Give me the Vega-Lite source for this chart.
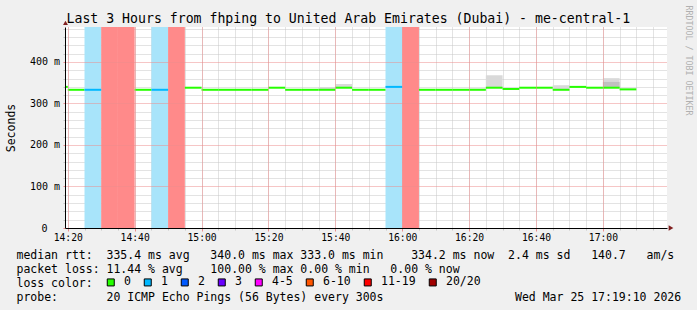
{
  "$schema": "https://vega.github.io/schema/vega-lite/v6.json",
  "width": 602,
  "height": 201,
  "autosize": {"type": "none"},
  "padding": {"left": 65, "top": 27, "right": 30, "bottom": 82},
  "background": "#f0f0f0",
  "config": {"view": {"stroke": null, "fill": "#ffffff"}, "font": "DejaVu Sans Mono"},
  "title": {"text": "Last 3 Hours from fhping to United Arab Emirates (Dubai) - me-central-1", "font": "DejaVu Sans Mono", "fontSize": 13.2, "fontWeight": "normal", "color": "#000000", "anchor": "middle", "frame": "group", "dx": -17.6, "dy": 34, "offset": 3, "baseline": "alphabetic"},
  "data": {"values": [
    {"t": "2026-03-25T14:15:00Z", "t2": "2026-03-25T14:20:00Z", "med": 340, "loss": "0"},
    {"t": "2026-03-25T14:20:00Z", "t2": "2026-03-25T14:25:00Z", "med": 333, "loss": "0"},
    {"t": "2026-03-25T14:25:00Z", "t2": "2026-03-25T14:30:00Z", "med": 333, "loss": "1"},
    {"t": "2026-03-25T14:30:00Z", "t2": "2026-03-25T14:35:00Z", "med": null, "loss": "20/20"},
    {"t": "2026-03-25T14:35:00Z", "t2": "2026-03-25T14:40:00Z", "med": null, "loss": "20/20"},
    {"t": "2026-03-25T14:40:00Z", "t2": "2026-03-25T14:45:00Z", "med": 333, "loss": "0"},
    {"t": "2026-03-25T14:45:00Z", "t2": "2026-03-25T14:50:00Z", "med": 333, "loss": "1"},
    {"t": "2026-03-25T14:50:00Z", "t2": "2026-03-25T14:55:00Z", "med": null, "loss": "20/20"},
    {"t": "2026-03-25T14:55:00Z", "t2": "2026-03-25T15:00:00Z", "med": 338, "loss": "0"},
    {"t": "2026-03-25T15:00:00Z", "t2": "2026-03-25T15:05:00Z", "med": 333, "loss": "0"},
    {"t": "2026-03-25T15:05:00Z", "t2": "2026-03-25T15:10:00Z", "med": 333, "loss": "0"},
    {"t": "2026-03-25T15:10:00Z", "t2": "2026-03-25T15:15:00Z", "med": 333, "loss": "0"},
    {"t": "2026-03-25T15:15:00Z", "t2": "2026-03-25T15:20:00Z", "med": 333, "loss": "0"},
    {"t": "2026-03-25T15:20:00Z", "t2": "2026-03-25T15:25:00Z", "med": 338, "loss": "0"},
    {"t": "2026-03-25T15:25:00Z", "t2": "2026-03-25T15:30:00Z", "med": 333, "loss": "0"},
    {"t": "2026-03-25T15:30:00Z", "t2": "2026-03-25T15:35:00Z", "med": 333, "loss": "0"},
    {"t": "2026-03-25T15:35:00Z", "t2": "2026-03-25T15:40:00Z", "med": 333, "loss": "0", "lo": 333, "hi": 340},
    {"t": "2026-03-25T15:40:00Z", "t2": "2026-03-25T15:45:00Z", "med": 338, "loss": "0", "lo": 338, "hi": 347},
    {"t": "2026-03-25T15:45:00Z", "t2": "2026-03-25T15:50:00Z", "med": 333, "loss": "0"},
    {"t": "2026-03-25T15:50:00Z", "t2": "2026-03-25T15:55:00Z", "med": 333, "loss": "0"},
    {"t": "2026-03-25T15:55:00Z", "t2": "2026-03-25T16:00:00Z", "med": 340, "loss": "1"},
    {"t": "2026-03-25T16:00:00Z", "t2": "2026-03-25T16:05:00Z", "med": null, "loss": "20/20"},
    {"t": "2026-03-25T16:05:00Z", "t2": "2026-03-25T16:10:00Z", "med": 333, "loss": "0"},
    {"t": "2026-03-25T16:10:00Z", "t2": "2026-03-25T16:15:00Z", "med": 333, "loss": "0"},
    {"t": "2026-03-25T16:15:00Z", "t2": "2026-03-25T16:20:00Z", "med": 333, "loss": "0"},
    {"t": "2026-03-25T16:20:00Z", "t2": "2026-03-25T16:25:00Z", "med": 333, "loss": "0", "lo": 333, "hi": 336},
    {"t": "2026-03-25T16:25:00Z", "t2": "2026-03-25T16:30:00Z", "med": 338, "loss": "0", "lo": 338, "hi": 368},
    {"t": "2026-03-25T16:30:00Z", "t2": "2026-03-25T16:35:00Z", "med": 335, "loss": "0"},
    {"t": "2026-03-25T16:35:00Z", "t2": "2026-03-25T16:40:00Z", "med": 338, "loss": "0"},
    {"t": "2026-03-25T16:40:00Z", "t2": "2026-03-25T16:45:00Z", "med": 338, "loss": "0"},
    {"t": "2026-03-25T16:45:00Z", "t2": "2026-03-25T16:50:00Z", "med": 333, "loss": "0", "lo": 333, "hi": 344},
    {"t": "2026-03-25T16:50:00Z", "t2": "2026-03-25T16:55:00Z", "med": 340, "loss": "0"},
    {"t": "2026-03-25T16:55:00Z", "t2": "2026-03-25T17:00:00Z", "med": 338, "loss": "0"},
    {"t": "2026-03-25T17:00:00Z", "t2": "2026-03-25T17:05:00Z", "med": 338, "loss": "0", "lo": 338, "hi": 361, "lo2": 338, "hi2": 352},
    {"t": "2026-03-25T17:05:00Z", "t2": "2026-03-25T17:10:00Z", "med": 334, "loss": "0", "lo": 334, "hi": 336}
  ]},
  "layer": [
    {
      "transform": [{"filter": "datum.loss != '0'"}],
      "mark": {"type": "rect", "clip": true},
      "encoding": {
        "x": {"field": "t", "type": "temporal",
          "scale": {"type": "utc", "domain": [1774448350000, 1774459150000]},
          "axis": {"orient": "bottom", "values": [1774448400000, 1774448700000, 1774449000000, 1774449300000, 1774449600000, 1774449900000, 1774450200000, 1774450500000, 1774450800000, 1774451100000, 1774451400000, 1774451700000, 1774452000000, 1774452300000, 1774452600000, 1774452900000, 1774453200000, 1774453500000, 1774453800000, 1774454100000, 1774454400000, 1774454700000, 1774455000000, 1774455300000, 1774455600000, 1774455900000, 1774456200000, 1774456500000, 1774456800000, 1774457100000, 1774457400000, 1774457700000, 1774458000000, 1774458300000, 1774458600000, 1774458900000], "grid": true, "gridColor": "#c6c6c6", "gridDash": [1, 1], "gridWidth": 1, "labels": false, "ticks": true, "tickColor": "#c6c6c6", "tickSize": 2, "domain": false, "title": null}},
        "x2": {"field": "t2"},
        "fill": {"field": "loss", "type": "nominal", "scale": {"domain": ["1", "20/20"], "range": ["#a8e4fa", "#ff8a8a"]}, "legend": null}
      }
    },
    {
      "transform": [{"filter": "isValid(datum.hi)"}],
      "mark": {"type": "rect", "clip": true, "color": "#d9d9d9"},
      "encoding": {
        "x": {"field": "t", "type": "temporal", "scale": {"type": "utc", "domain": [1774448350000, 1774459150000]}, "axis": null},
        "x2": {"field": "t2"},
        "y": {"field": "lo", "type": "quantitative", "scale": {"domain": [0, 484.3], "nice": false, "zero": true},
          "axis": {"orient": "left", "values": [20, 40, 60, 80, 120, 140, 160, 180, 220, 240, 260, 280, 320, 340, 360, 380, 420, 440, 460, 480], "grid": true, "gridColor": "#c6c6c6", "gridDash": [1, 1], "labels": false, "ticks": true, "tickSize": 2, "tickColor": "#c6c6c6", "domain": false, "title": null}},
        "y2": {"field": "hi"}
      }
    },
    {
      "transform": [{"filter": "isValid(datum.hi2)"}],
      "mark": {"type": "rect", "clip": true, "color": "#c0c0c0"},
      "encoding": {
        "x": {"field": "t", "type": "temporal", "scale": {"type": "utc", "domain": [1774448350000, 1774459150000]}, "axis": null},
        "x2": {"field": "t2"},
        "y": {"field": "lo2", "type": "quantitative", "scale": {"domain": [0, 484.3], "nice": false, "zero": true}, "axis": null},
        "y2": {"field": "hi2"}
      }
    },
    {
      "transform": [{"filter": "isValid(datum.med)"}],
      "mark": {"type": "rule", "strokeWidth": 2, "clip": true},
      "encoding": {
        "x": {"field": "t", "type": "temporal", "scale": {"type": "utc", "domain": [1774448350000, 1774459150000]},
          "axis": {"orient": "bottom", "zindex": 1, "values": [1774448400000, 1774449600000, 1774450800000, 1774452000000, 1774453200000, 1774454400000, 1774455600000, 1774456800000, 1774458000000], "format": "%H:%M", "grid": true, "gridColor": "#ec8c8c", "gridDash": [1, 1], "labelFont": "DejaVu Sans Mono", "labelFontSize": 9.7, "labelColor": "#000000", "labelPadding": 1, "labelFlush": false, "labelOverlap": false, "tickSize": 3, "tickColor": "#ec8c8c", "domain": true, "domainColor": "#000000",
            "title": ["median rtt:\u00a0\u00a0335.4 ms avg\u00a0\u00a0\u00a0340.0 ms max\u00a0333.0 ms min\u00a0\u00a0\u00a0\u00a0334.2 ms now\u00a0\u00a02.4 ms sd\u00a0\u00a0\u00a0140.7\u00a0\u00a0\u00a0am/s", "packet loss:\u00a011.44 % avg\u00a0\u00a0\u00a0\u00a0100.00 % max\u00a00.00 % min\u00a0\u00a0\u00a00.00 % now", "loss color:", "probe:\u00a0\u00a0\u00a0\u00a0\u00a0\u00a0\u00a020 ICMP Echo Pings (56 Bytes) every 300s\u00a0\u00a0\u00a0\u00a0\u00a0\u00a0\u00a0\u00a0\u00a0\u00a0\u00a0\u00a0\u00a0\u00a0\u00a0\u00a0\u00a0\u00a0\u00a0Wed Mar 25 17:19:10 2026"],
            "titleFont": "DejaVu Sans Mono", "titleFontSize": 11.5, "titleFontWeight": "normal", "titleColor": "#000000", "titleX": -49, "titleY": 30, "titleAlign": "left", "titleAnchor": "start", "titleBaseline": "alphabetic", "titleLineHeight": 14, "titleAngle": 0, "titleLimit": 2000}},
        "x2": {"field": "t2"},
        "y": {"field": "med", "type": "quantitative", "scale": {"domain": [0, 484.3], "nice": false, "zero": true},
          "axis": {"orient": "left", "zindex": 1, "values": [0, 100, 200, 300, 400], "grid": true, "gridColor": "#ec8c8c", "gridDash": [1, 1], "labelExpr": "datum.value == 0 ? '0' : datum.value + ' m'", "labelFont": "DejaVu Sans Mono", "labelFontSize": 10, "labelColor": "#000000", "tickSize": 2, "tickColor": "#ec8c8c", "labelPadding": {"condition": {"test": "datum.value == 0", "value": 16}, "value": 3.5}, "domain": true, "domainColor": "#000000",
            "title": "Seconds", "titleFont": "DejaVu Sans Mono", "titleFontSize": 11.5, "titleFontWeight": "normal", "titleColor": "#000000", "titleX": -54, "titleY": 100.5, "titleAngle": 270, "titleAlign": "center", "titleBaseline": "middle"}},
        "stroke": {"field": "loss", "type": "nominal", "scale": {"domain": ["0", "1"], "range": ["#26ff00", "#00b8ff"]}, "legend": null}
      }
    },
    {
      "transform": [{"filter": "isValid(datum.med)"}],
      "mark": {"type": "square", "opacity": 0, "size": 1, "clip": true},
      "encoding": {
        "x": {"field": "t", "type": "temporal", "scale": {"type": "utc", "domain": [1774448350000, 1774459150000]}, "axis": null},
        "y": {"field": "med", "type": "quantitative", "scale": {"domain": [0, 484.3], "nice": false, "zero": true},
          "axis": {"orient": "right", "domain": false, "ticks": false, "labels": false, "grid": false, "title": "RRDTOOL / TOBI OETIKER", "titleFont": "DejaVu Sans Mono", "titleFontSize": 8.3, "titleFontWeight": "normal", "titleColor": "#b0b0b0", "titleAngle": 90, "titleX": 20.3, "titleY": 33, "titleAlign": "center", "titleBaseline": "middle"}},
        "color": {"field": "loss", "type": "nominal",
          "scale": {"domain": ["0", "1", "2", "3", "4-5", "6-10", "11-19", "20/20"], "range": ["#26ff00", "#00b8ff", "#0059ff", "#6a00ff", "#ff00ff", "#ff5500", "#ff0000", "#a10000"]},
          "legend": {"orient": "none", "legendX": 40, "legendY": 249.3, "direction": "horizontal", "title": null, "symbolType": "square", "symbolSize": 49, "symbolStrokeColor": "#000000", "symbolStrokeWidth": 1, "symbolOpacity": 1, "labelFont": "DejaVu Sans Mono", "labelFontSize": 11.5, "labelColor": "#000000", "labelOffset": 7.5, "columnPadding": 11, "padding": 0}}
      }
    },
    {
      "data": {"values": [{"k": "x"}]},
      "mark": {"type": "point", "shape": "triangle-right", "filled": true, "color": "#801f1f", "opacity": 1, "size": 30, "clip": false},
      "encoding": {
        "x": {"datum": 1774459222000, "type": "temporal", "scale": {"type": "utc", "domain": [1774448350000, 1774459150000]}, "axis": null},
        "y": {"datum": 0, "type": "quantitative", "scale": {"domain": [0, 484.3], "nice": false, "zero": true}, "axis": null}
      }
    },
    {
      "data": {"values": [{"k": "y"}]},
      "mark": {"type": "point", "shape": "triangle-up", "filled": true, "color": "#801f1f", "opacity": 1, "size": 24, "clip": false},
      "encoding": {
        "x": {"datum": 1774448359000, "type": "temporal", "scale": {"type": "utc", "domain": [1774448350000, 1774459150000]}, "axis": null},
        "y": {"datum": 494, "type": "quantitative", "scale": {"domain": [0, 484.3], "nice": false, "zero": true}, "axis": null}
      }
    }
  ],
  "resolve": {"axis": {"x": "independent", "y": "independent"}}
}
